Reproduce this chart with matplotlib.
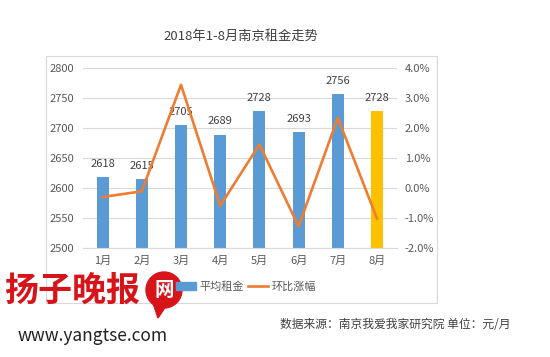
import matplotlib
matplotlib.use("Agg")
import matplotlib.pyplot as plt
from matplotlib.patches import Rectangle, Circle, Polygon
from matplotlib.lines import Line2D
from matplotlib.ticker import FuncFormatter

plt.rcParams['font.family'] = ['Noto Sans CJK SC', 'DejaVu Sans']

months = ["1月", "2月", "3月", "4月", "5月", "6月", "7月", "8月"]
avg_rent = [2618, 2615, 2705, 2689, 2728, 2693, 2756, 2728]
mom_change = [-0.3, -0.11, 3.44, -0.59, 1.45, -1.28, 2.34, -1.02]
bar_colors = ["#5B9BD5"] * 7 + ["#FFC000"]
left_ticks = [2500, 2550, 2600, 2650, 2700, 2750, 2800]
right_ticks = [-2, -1, 0, 1, 2, 3, 4]
title = "2018年1-8月南京租金走势"
legend_labels = ["平均租金", "环比涨幅"]
source_text = "数据来源：南京我爱我家研究院 单位：元/月"

W, H = 550, 357
fig = plt.figure(figsize=(5.5, 3.57), dpi=100)
fig.patch.set_facecolor("white")

def fx(px):
    return px / W

def fy(py):
    return 1 - py / H

def inch(px, py):
    return (px / 100.0, (H - py) / 100.0)

# chart frame
fig.patches.append(Rectangle((fx(46), fy(303)), fx(437) - fx(46), fy(56) - fy(303),
                             transform=fig.transFigure, fill=False,
                             edgecolor="#D9D9D9", linewidth=0.8, zorder=0))

ax = fig.add_axes([fx(83), fy(248), fx(396.6) - fx(83), fy(68) - fy(248)])
x = list(range(len(months)))
ax.bar(x, avg_rent, width=0.31, color=bar_colors, zorder=2)
ax.set_ylim(2500, 2800)
ax.set_xlim(-0.5, len(months) - 0.5)
ax.set_yticks(left_ticks)
ax.set_xticks(x)
ax.set_xticklabels(months)
ax.grid(axis="y", color="#D9D9D9", linewidth=0.8, zorder=0)
for s in ax.spines.values():
    s.set_visible(False)
ax.spines["bottom"].set_visible(True)
ax.spines["bottom"].set_color("#D9D9D9")
ax.tick_params(axis="both", length=0, labelsize=8, colors="#595959")
ax.tick_params(axis="y", pad=6)
ax.tick_params(axis="x", pad=6)

for xi, v in zip(x, avg_rent):
    ax.annotate(str(v), (xi, v), xytext=(0, 6), textcoords="offset points",
                ha="center", va="bottom", fontsize=8, color="#404040", zorder=3)

ax2 = ax.twinx()
ax2.plot(x, mom_change, color="#ED7D31", linewidth=1.9, zorder=4)
ax2.set_ylim(-2, 4)
ax2.set_yticks(right_ticks)
ax2.yaxis.set_major_formatter(FuncFormatter(lambda v, p: f"{v:.1f}%"))
for s in ax2.spines.values():
    s.set_visible(False)
ax2.tick_params(axis="y", length=0, labelsize=8, colors="#595959", pad=6)

fig.text(fx(241), fy(36), title, ha="center", va="center", fontsize=9.5, color="#404040")

# legend
handles = [Rectangle((0, 0), 1, 1, color="#5B9BD5"),
           Line2D([0], [0], color="#ED7D31", linewidth=1.9)]
fig.legend(handles, legend_labels, loc="center", bbox_to_anchor=(fx(246), fy(287)),
           ncol=2, frameon=False, fontsize=8, labelcolor="#595959",
           handlelength=1.8, handletextpad=0.3, columnspacing=0.4)

fig.text(fx(510), fy(325), source_text, ha="right", va="center", fontsize=8.5, color="#404040")

# watermark
fig.text(fx(4), fy(290), "扬子晚报", ha="left", va="center", fontsize=24.5,
         color="#D7141A", fontweight="bold", zorder=5)
tail = Polygon([inch(152, 300), inch(158, 318), inch(166, 306)], closed=True,
               transform=fig.dpi_scale_trans, color="#D7141A", zorder=5)
fig.patches.append(tail)
circ = Circle(inch(164, 290), 0.18, transform=fig.dpi_scale_trans,
              color="#D7141A", zorder=5)
fig.patches.append(circ)
fig.text(fx(164), fy(290), "网", ha="center", va="center", fontsize=14,
         color="white", fontweight="bold", zorder=6)
fig.text(fx(18), fy(336), "www.yangtse.com", ha="left", va="center", fontsize=12.5,
         color="#222222", zorder=6)

fig.savefig("out.png", dpi=100)
